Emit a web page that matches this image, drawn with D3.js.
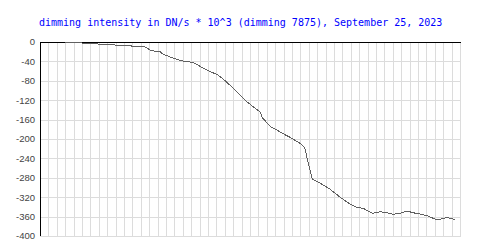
<!DOCTYPE html>
<html>
<head>
<meta charset="utf-8">
<script src="https://cdn.jsdelivr.net/npm/d3@7"></script>
<style>
  body { margin: 0; background: #fff; }
  svg { display: block; }
</style>
</head>
<body>
<main></main>
<script>
(function() {
  // sample position (one unit per vertical grid line) and dimming in DN/s * 10^3
  const samples = [3.0, 5.0, 5.1, 6.9, 7.0, 8.9, 9.0, 10.9, 11.0, 12.5, 13.1, 13.8, 14.3, 14.6, 15.5, 16.3, 17.0, 18.2, 18.7, 19.4,
    20.2, 21.1, 21.8, 22.6, 23.8, 24.6, 25.4, 26.2, 26.5, 27.4, 28.2, 28.9, 29.8, 31.0, 31.5, 31.8, 32.4, 33.3, 34.5, 35.7,
    36.9, 37.7, 38.5, 39.3, 39.6, 40.5, 41.3, 42.0, 42.9, 43.7, 44.4, 45.2, 46.1, 46.8, 47.3, 48.0, 48.5, 49.2, 49.4];
  const dimming = [-2, -2, -4, -4, -6, -6, -8, -8, -10, -10, -16.5, -19.6, -19.6, -24.7, -30.9, -36, -39.2, -41.9, -46.4, -53.6,
    -60.8, -67, -76.3, -88.7, -109.3, -122.7, -134, -144.3, -156.7, -174.2, -181.4, -188.7, -196.9, -209.3, -217.1, -239.2, -282.5, -290.7, -303.1, -319.6,
    -334, -340.8, -342.9, -351.1, -353.2, -349.9, -352, -355.3, -353.2, -348.5, -352, -354.6, -358.1, -363.5, -367, -363.5, -362.3, -365, -365];
  const yTicks = [0, -40, -80, -120, -160, -200, -240, -280, -320, -360, -400];
  const xGrid = d3.range(0, 51);
  const title = "dimming intensity in DN/s * 10^3 (dimming 7875), September 25, 2023";

  const w = 500, h = 250;
  const left = 40, right = 460, top = 42, bottom = 236;

  const svg = d3.select("main").append("svg")
    .attr("width", w)
    .attr("height", h);

  const xScale = d3.scaleLinear().domain([0, 50]).range([left, right]);
  const yScale = d3.scaleLinear().domain([0, -400]).range([top, bottom]);

  svg.append("text")
    .attr("x", 39)
    .attr("y", 26)
    .attr("font-family", "DejaVu Sans Mono, monospace")
    .attr("font-size", 10)
    .attr("fill", "#0000ff")
    .text(title);

  // grid
  svg.append("g")
    .selectAll("line")
    .data(xGrid.slice(1))
    .enter()
    .append("line")
    .attr("x1", d => Math.round(xScale(d)) + 0.5)
    .attr("x2", d => Math.round(xScale(d)) + 0.5)
    .attr("y1", top)
    .attr("y2", bottom)
    .attr("stroke", "#dcdcdc")
    .attr("stroke-width", 1);

  svg.append("g")
    .selectAll("line")
    .data(yTicks.slice(1))
    .enter()
    .append("line")
    .attr("x1", left)
    .attr("x2", right + 1)
    .attr("y1", d => Math.round(yScale(d)) + 0.5)
    .attr("y2", d => Math.round(yScale(d)) + 0.5)
    .attr("stroke", "#dcdcdc")
    .attr("stroke-width", 1);

  // axes lines
  svg.append("line")
    .attr("x1", left + 0.5).attr("x2", left + 0.5)
    .attr("y1", top).attr("y2", bottom)
    .attr("stroke", "#000");
  svg.append("line")
    .attr("x1", left).attr("x2", right + 1)
    .attr("y1", top + 0.5).attr("y2", top + 0.5)
    .attr("stroke", "#000");

  svg.append("g")
    .selectAll("text")
    .data(yTicks)
    .enter()
    .append("text")
    .attr("x", 35)
    .attr("y", d => yScale(d))
    .attr("dy", "0.35em")
    .attr("text-anchor", "end")
    .attr("font-family", "Liberation Sans, Arial, sans-serif")
    .attr("font-size", 9.5)
    .attr("fill", "#444")
    .text(d => d === 0 ? "0" : "-" + Math.abs(d));

  const line = d3.line()
    .x((d, i) => xScale(samples[i]))
    .y(d => yScale(d));

  svg.append("path")
    .datum(dimming)
    .attr("d", line)
    .attr("fill", "none")
    .attr("stroke", "#606060")
    .attr("stroke-width", 1)
    .attr("shape-rendering", "crispEdges");
})();
</script>
</body>
</html>
